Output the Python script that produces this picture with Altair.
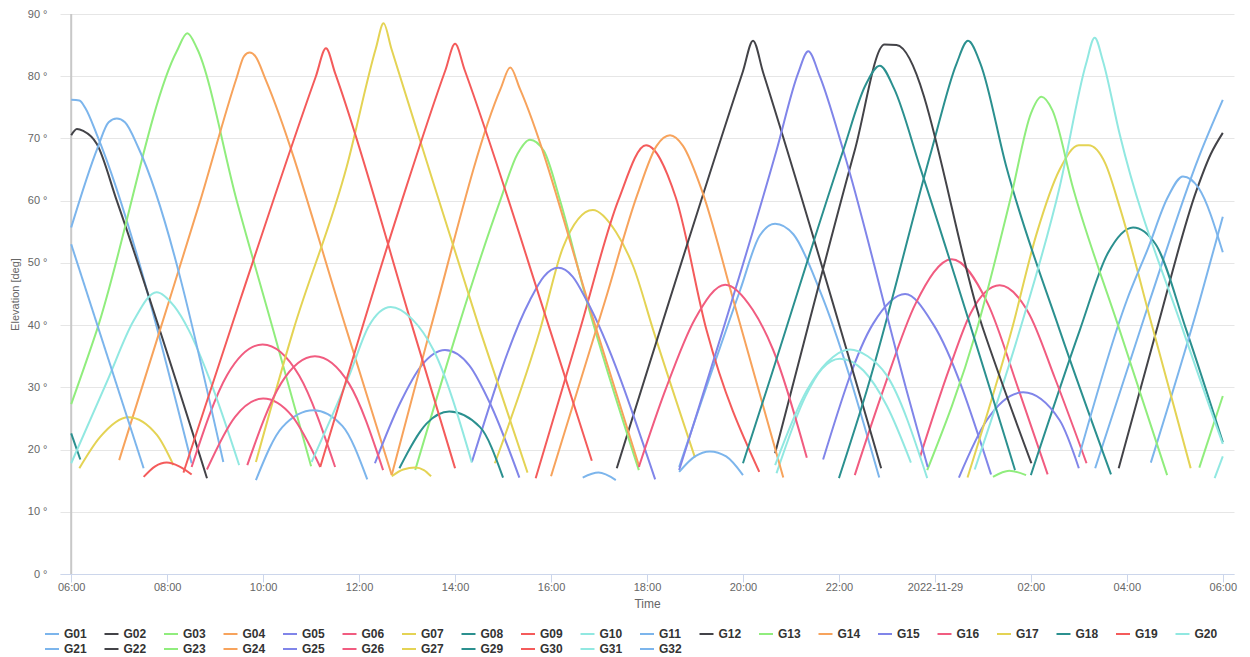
import altair as alt
import pandas as pd

# ---------------- data (hours after 2022-11-28 06:00 UTC, elevation deg) ----
BASE_ISO = "2022-11-28T06:00:00Z"
SATS = ["G01", "G02", "G03", "G04", "G05", "G06", "G07", "G08", "G09", "G10",
        "G11", "G12", "G13", "G14", "G15", "G16", "G17", "G18", "G19", "G20",
        "G21", "G22", "G23", "G24", "G25", "G26", "G27", "G29", "G30", "G31", "G32"]
PALETTE = ["#7cb5ec", "#434348", "#90ed7d", "#f7a35c", "#8085e9",
           "#f15c80", "#e4d354", "#2b908f", "#f45b5b", "#91e8e1"]

G01 = [[(0.0, 76.2), (0.17, 76.1), (0.3, 74.8), (0.53, 70.7), (2.51, 17.8)],
       [(12.67, 17.2), (13.94, 45.6), (14.35, 54.4), (14.67, 56.3), (15.05, 54.6), (15.6, 45.6), (16.84, 15.5)],
       [(21.34, 17.0), (22.48, 44.0), (23.5, 67.0), (24.0, 76.2)]]
G02 = [[(0.0, 70.5), (0.12, 71.5), (0.25, 71.2), (0.535, 69.1), (0.95, 60.0), (2.83, 15.4)],
       [(21.83, 17.0), (22.62, 39.2), (23.45, 61.6), (23.75, 67.5), (24.0, 70.9)]]
G03 = [[(0.0, 27.3), (0.535, 39.2), (2.2, 84.0), (2.42, 86.9), (2.62, 84.5), (3.45, 60.0), (4.21, 39.2), (5.0, 17.3)],
       [(23.51, 17.1), (24.0, 28.6)]]
G04 = [[(1.0, 18.3), (1.85, 39.2), (2.69, 60.0), (3.45, 79.8), (3.6, 83.2), (3.72, 83.8), (3.84, 83.2),
        (4.05, 79.5), (5.74, 39.2), (6.68, 15.9)]]
G05 = [[(6.33, 17.8), (6.85, 27.4), (7.3, 33.5), (7.79, 36.0), (8.3, 33.5), (8.73, 27.4), (9.34, 15.5)],
       [(15.67, 18.4), (16.71, 40.2), (17.38, 45.0), (17.96, 40.2), (19.17, 16.0)]]
G06 = [[(2.51, 17.2), (3.25, 32.0), (3.99, 36.9), (4.75, 31.9), (5.5, 17.2)],
       [(16.33, 15.9), (16.92, 29.5), (17.6, 43.5), (18.35, 50.6), (19.1, 43.5), (19.75, 29.5), (20.35, 16.0)]]
G07 = [[(0.17, 17.0), (0.6, 22.0), (1.19, 25.2), (1.79, 22.3), (2.13, 17.5)],
       [(8.83, 17.8), (9.77, 39.2), (10.25, 52.5), (10.87, 58.5), (11.35, 55.0), (11.72, 49.3), (12.13, 39.2), (13.0, 18.7)]]
G08 = [[(0.0, 22.6), (0.19, 18.4)],
       [(20.0, 15.9), (21.02, 39.2), (21.6, 51.5), (22.13, 55.7), (22.6, 53.0), (23.24, 39.2), (24.0, 21.2)]]
G09 = [[(1.51, 15.6), (1.75, 17.3), (1.99, 17.9), (2.25, 17.3), (2.51, 16.0)],
       [(9.68, 15.4), (10.6, 39.2), (11.4, 60.0), (11.98, 68.9), (12.6, 60.5), (13.24, 39.2), (14.34, 16.4)]]
G10 = [[(0.0, 17.8), (0.75, 31.0), (1.3, 40.7), (1.78, 45.3), (2.15, 43.0), (2.45, 39.2), (2.9, 31.0), (3.5, 17.5)],
       [(14.7, 16.2), (15.3, 28.5), (15.65, 33.0), (16.02, 34.6), (16.51, 32.7), (17.0, 27.0), (17.5, 17.9)],
       [(23.83, 15.4), (24.0, 18.9)]]
G11 = [[(0.0, 55.7), (0.55, 68.5), (0.78, 72.6), (0.95, 73.2), (1.12, 72.6), (1.4, 68.5), (3.17, 18.0)],
       [(3.85, 15.1), (4.4, 23.6), (5.05, 26.3), (5.65, 23.8), (6.17, 15.2)],
       [(22.5, 17.9), (23.52, 44.0), (24.0, 57.4)]]
G12 = [[(11.37, 17.0), (14.0, 80.8), (14.21, 85.7), (14.42, 80.6), (16.88, 17.0)]]
G13 = [[(7.17, 16.7), (8.94, 60.0), (9.3, 67.5), (9.56, 69.8), (9.85, 68.0), (10.19, 60.0), (10.74, 44.0), (11.83, 16.7)],
       [(19.21, 15.6), (19.55, 16.6), (19.9, 15.9)]]
G14 = [[(6.68, 15.9), (7.48, 39.2), (8.95, 78.0), (9.15, 81.4), (9.35, 78.0), (10.95, 39.2), (11.84, 17.2)]]
G15 = [[(8.35, 18.0), (9.56, 44.0), (9.85, 47.8), (10.15, 49.2), (10.45, 47.8), (10.74, 44.0), (12.17, 15.2)],
       [(18.5, 15.5), (19.08, 24.7), (19.84, 29.2), (20.6, 24.7), (21.0, 17.0)]]
G16 = [[(2.83, 16.8), (3.42, 25.3), (4.0, 28.2), (4.6, 25.4), (5.19, 17.2)],
       [(17.69, 18.8), (18.3, 33.0), (18.75, 42.0), (19.35, 46.4), (19.95, 42.0), (20.5, 31.5), (21.16, 17.8)]]
G17 = [[(3.85, 18.0), (4.63, 39.2), (5.74, 65.4), (6.35, 84.5), (6.51, 88.5), (6.67, 84.5), (7.27, 69.7), (8.52, 39.2), (9.51, 16.3)],
       [(18.68, 15.5), (19.6, 39.2), (20.12, 54.7), (20.6, 65.0), (21.0, 68.9), (21.2, 68.9), (21.55, 66.0),
        (21.85, 59.0), (22.55, 39.2), (23.33, 17.0)]]
G18 = [[(6.84, 17.0), (7.41, 24.2), (7.88, 26.1), (8.52, 23.6), (9.0, 15.5)],
       [(16.0, 15.4), (16.58, 29.5), (17.93, 68.1), (18.45, 82.0), (18.69, 85.7), (18.95, 82.0), (19.49, 65.4),
        (20.6, 39.2), (21.67, 16.0)]]
G19 = [[(2.34, 16.3), (3.52, 44.0), (5.1, 80.0), (5.31, 84.5), (5.5, 80.5), (7.1, 40.0), (8.0, 17.0)]]
G20 = [[(5.01, 18.0), (5.81, 32.2), (6.2, 39.8), (6.66, 42.9), (7.1, 41.0), (7.55, 36.0), (8.35, 17.9)],
       [(18.83, 16.8), (19.77, 39.2), (20.6, 62.2), (21.15, 82.0), (21.33, 86.2), (21.5, 82.5), (21.85, 70.7),
        (23.17, 39.2), (24.0, 20.9)]]
G21 = [[(0.0, 53.0), (1.51, 17.0)],
       [(10.66, 15.5), (10.99, 16.3), (11.35, 15.1)],
       [(21.0, 18.8), (22.0, 44.0), (22.45, 52.5), (22.85, 60.5), (23.17, 63.9), (23.5, 62.0), (24.0, 51.7)]]
G22 = [[(14.67, 19.4), (15.01, 29.5), (16.33, 68.1), (16.95, 85.1), (17.2, 85.0), (19.0, 39.5), (20.01, 17.8)]]
G23 = [[(17.84, 16.7), (18.87, 39.2), (19.6, 61.1), (20.0, 74.0), (20.22, 76.7), (20.45, 74.5), (20.88, 62.0),
        (21.85, 39.2), (22.84, 15.9)]]
G24 = [[(10.0, 15.7), (11.13, 44.0), (11.8, 61.0), (12.2, 68.8), (12.48, 70.5), (12.75, 68.8), (13.15, 61.5),
        (13.8, 44.0), (14.84, 15.5)]]
G25 = [[(12.67, 16.7), (14.7, 68.1), (15.15, 80.5), (15.36, 84.0), (15.6, 80.0), (16.09, 68.1), (17.41, 29.5), (17.85, 17.2)]]
G26 = [[(3.67, 17.5), (4.37, 30.6), (5.08, 35.0), (5.79, 30.6), (6.5, 16.7)],
       [(11.83, 17.2), (12.38, 29.5), (13.0, 41.0), (13.63, 46.5), (14.2, 42.5), (14.63, 36.0), (15.33, 18.7)]]
G27 = [[(6.68, 15.7), (6.92, 16.8), (7.17, 17.1), (7.35, 16.7), (7.5, 15.7)]]
G29 = [[(14.0, 17.8), (14.49, 29.5), (16.09, 68.1), (16.55, 78.5), (16.85, 81.7), (17.15, 78.0), (17.69, 65.4), (19.67, 16.7)]]
G30 = [[(5.19, 17.2), (6.85, 59.0), (7.8, 81.0), (8.0, 85.2), (8.2, 81.0), (9.98, 39.2), (10.85, 18.2)]]
G31 = [[(14.67, 17.5), (15.33, 29.5), (15.75, 34.0), (16.23, 36.1), (16.6, 35.0), (16.99, 32.0), (17.84, 15.4)]]
G32 = [[(12.67, 16.4), (13.0, 18.9), (13.31, 19.7), (13.65, 18.9), (14.0, 15.9)]]

PASSES = {"G01": G01, "G02": G02, "G03": G03, "G04": G04, "G05": G05, "G06": G06, "G07": G07,
          "G08": G08, "G09": G09, "G10": G10, "G11": G11, "G12": G12, "G13": G13, "G14": G14,
          "G15": G15, "G16": G16, "G17": G17, "G18": G18, "G19": G19, "G20": G20, "G21": G21,
          "G22": G22, "G23": G23, "G24": G24, "G25": G25, "G26": G26, "G27": G27, "G29": G29,
          "G30": G30, "G31": G31, "G32": G32}

# ---------------- build table ----------------
BASE_MS = int(pd.Timestamp(BASE_ISO).value // 10**6)
HOUR_MS = 3600000
rows = []
for sat in SATS:
    for i, p in enumerate(PASSES[sat]):
        for t, e in p:
            rows.append({"sat": sat, "pass": f"{sat}-{i}", "time": BASE_MS + t * HOUR_MS, "elev": e})
df = pd.DataFrame(rows)

COLORS = [PALETTE[i % 10] for i in range(len(SATS))]
TICKS = [BASE_MS + h * HOUR_MS for h in range(0, 25, 2)]
DOMAIN = [BASE_MS - 14 * 60000, BASE_MS + 24 * HOUR_MS + 14 * 60000]
FONT = "Liberation Sans"

xscale = alt.Scale(type="utc", domain=DOMAIN)

lines = alt.Chart(df).mark_line(interpolate="monotone", strokeWidth=2).encode(
    x=alt.X("time:T", scale=xscale,
            axis=alt.Axis(values=TICKS,
                          labelExpr="utcFormat(datum.value, '%H:%M') == '00:00' ? utcFormat(datum.value, '%Y-%m-%d') : utcFormat(datum.value, '%H:%M')",
                          title="Time", grid=False, tickSize=8, tickColor="#ccd6eb", domainColor="#ccd6eb",
                          labelPadding=-1, labelFlush=False, labelOverlap=False, titlePadding=6,
                          labelFontSize=11, labelColor="#666666", titleFontSize=12,
                          titleFontWeight="normal", titleColor="#666666")),
    y=alt.Y("elev:Q", scale=alt.Scale(domain=[0, 90], nice=False),
            axis=alt.Axis(values=list(range(0, 91, 10)), labelExpr="datum.value + ' °'",
                          title="Elevation [deg]", grid=True, gridColor="#e6e6e6", domain=False,
                          ticks=False, tickSize=0, labelPadding=13, titlePadding=7,
                          labelFontSize=11, labelColor="#666666", titleFontSize=11,
                          titleFontWeight="normal", titleColor="#666666")),
    color=alt.Color("sat:N", scale=alt.Scale(domain=SATS, range=COLORS),
                    legend=alt.Legend(orient="none", legendX=-16, legendY=612, direction="horizontal",
                                      columns=20, title=None, symbolType="stroke", symbolSize=196,
                                      symbolStrokeWidth=2, symbolLimit=40, labelFontSize=12,
                                      labelFontWeight="bold", labelColor="#333333", labelOffset=4,
                                      columnPadding=13.5, rowPadding=1, padding=0)),
    detail="pass:N",
)

plotline = alt.Chart(pd.DataFrame({"time": [BASE_MS]})).mark_rule(color="#c8c8c8", strokeWidth=2).encode(
    x=alt.X("time:T", scale=xscale)
)

chart = alt.layer(plotline, lines).properties(
    width=1174, height=560,
    padding={"left": 52, "top": 6, "right": 8, "bottom": 86},
    autosize=alt.AutoSizeParams(type="none"),
).configure_view(strokeWidth=0).configure_axis(
    labelFont=FONT, titleFont=FONT
).configure_legend(labelFont=FONT)

chart.save("out.html", embed_options={"renderer": "svg", "actions": False})
